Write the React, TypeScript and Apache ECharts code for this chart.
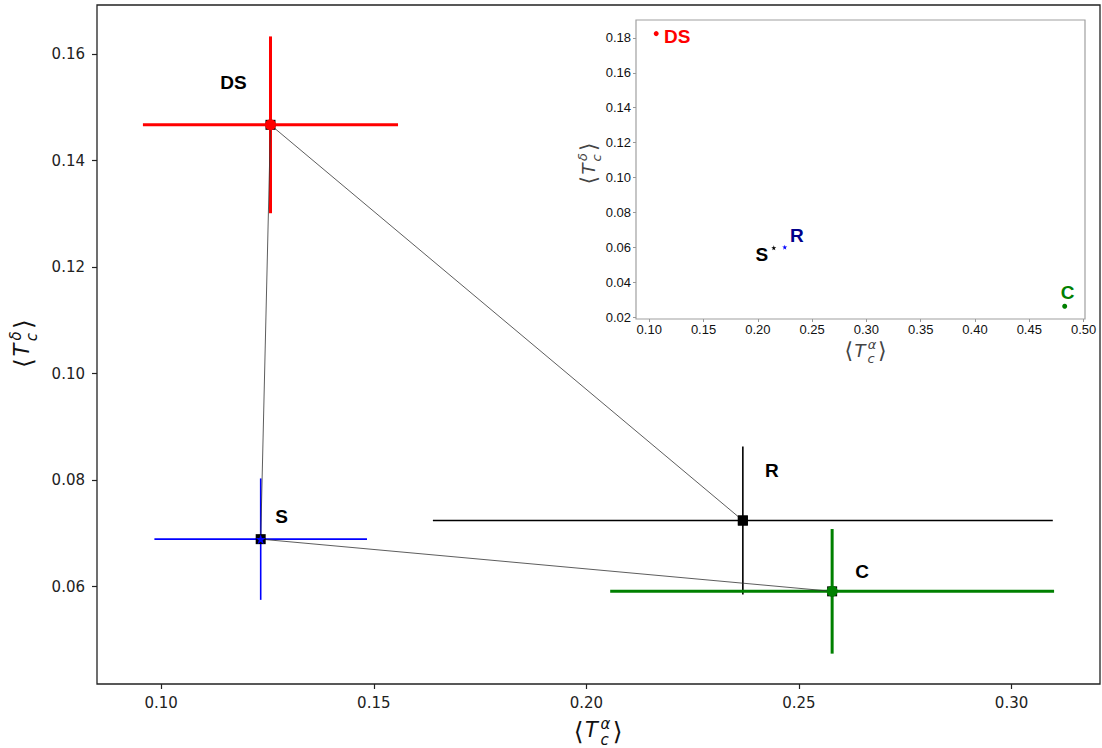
import React, { useEffect, useRef } from "react";
import * as echarts from "echarts";

// ---- main plot data ----
const names = ["DS", "S", "R", "C"];
const tcAlpha = [0.1257, 0.1234, 0.2368, 0.2578];
const tcDelta = [0.1467, 0.0689, 0.0724, 0.0591];
const errAlpha = [0.0300, 0.0250, 0.0729, 0.0522];
const errDelta = [0.0166, 0.0114, 0.0139, 0.0117];
const links = [["DS", "S"], ["DS", "R"], ["S", "C"]];
const mainXTicks = [0.10, 0.15, 0.20, 0.25, 0.30];
const mainYTicks = [0.06, 0.08, 0.10, 0.12, 0.14, 0.16];

// ---- inset data ----
const insetNames = ["DS", "S", "R", "C"];
const insetAlpha = [0.1064, 0.2147, 0.2248, 0.4826];
const insetDelta = [0.1825, 0.0597, 0.0601, 0.0262];
const insetXTicks = [0.10, 0.15, 0.20, 0.25, 0.30, 0.35, 0.40, 0.45, 0.50];
const insetYTicks = [0.02, 0.04, 0.06, 0.08, 0.10, 0.12, 0.14, 0.16, 0.18];

// ---- styles ----
const errColors = ["#ff0000", "#0000ff", "#000000", "#008000"];
const errWidths = [3, 1.6, 1.6, 3];
const overlaySymbols = ["circle", "star", "rect", "circle"];
const overlayColors = ["#ff0000", "#0000ff", "#000000", "#008000"];
const overlaySizes = [11, 10, 10, 11];
const labelOffsets = [[-37, -42], [21, -23], [29, -50], [30, -20]];
const insetSymbols = ["circle", "star", "star", "circle"];
const insetColors = ["#ff0000", "#000000", "#0000ff", "#008000"];
const insetLabelColors = ["#ff0000", "#000000", "#00008b", "#008000"];
const insetLabelOffsets = [[21, 3], [-12, 7], [12, -12], [3, -14]];

const STAR =
  "path://M100,0L122.45,69.1L195.1,69.1L136.33,111.8L158.78,180.9L100,138.2L41.22,180.9L63.67,111.8L4.9,69.1L77.55,69.1Z";
const sym = (s: string) => (s === "star" ? STAR : s);

const MATH_FONT = "DejaVu Sans";
const LABEL_FONT = "Liberation Sans, Arial, sans-serif";

function mathTitle(
  cx: number,
  cy: number,
  rotation: number,
  size: number,
  sup: string,
  color: string
) {
  const s = size / 21;
  const small = Math.round(size * 0.7);
  const t = (text: string, x: number, y: number, fs: number, italic: boolean) => ({
    type: "text",
    x: x * s,
    y: y * s,
    style: {
      text,
      fontSize: fs,
      fontFamily: MATH_FONT,
      fontStyle: italic ? "italic" : "normal",
      fill: color,
      align: "center",
      verticalAlign: "middle",
    },
  });
  return {
    type: "group",
    x: cx,
    y: cy,
    rotation,
    children: [
      t("\u27E8", -20, 1, Math.round(size * 1.2), false),
      t("T", -7, 0, size, true),
      t(sup, 7, -6, small, true),
      t("c", 6, 10, small, true),
      t("\u27E9", 19, 1, Math.round(size * 1.2), false),
    ],
  };
}

export default function App() {
  const ref = useRef<HTMLDivElement>(null);
  useEffect(() => {
    if (!ref.current) return;
    const chart = echarts.init(ref.current, undefined, { renderer: "svg" });
    const idx = (n: string) => names.indexOf(n);

    const mainAxisLabel = {
      fontFamily: MATH_FONT,
      fontSize: 15,
      color: "#222",
      formatter: (v: number) => v.toFixed(2),
    };
    const insetAxisLabel = {
      fontFamily: LABEL_FONT,
      fontSize: 13,
      color: "#111",
      formatter: (v: number) => v.toFixed(2),
    };

    chart.setOption({
      animation: false,
      backgroundColor: "#ffffff",
      grid: [
        {
          left: 97,
          top: 5,
          right: 2,
          bottom: 64,
          show: true,
          borderColor: "#222",
          borderWidth: 1.3,
          backgroundColor: "transparent",
        },
        {
          left: 636,
          top: 20,
          right: 17,
          bottom: 429,
          show: true,
          borderColor: "#a0a0a0",
          borderWidth: 1.2,
          backgroundColor: "#ffffff",
          z: 10,
        },
      ],
      xAxis: [
        {
          type: "value",
          gridIndex: 0,
          min: 0.0849,
          max: 0.3208,
          axisLine: { show: false },
          splitLine: { show: false },
          axisTick: {
            show: true,
            inside: false,
            length: 5,
            lineStyle: { color: "#222", width: 1.2 },
            customValues: mainXTicks,
          },
          axisLabel: { ...mainAxisLabel, margin: 11, customValues: mainXTicks },
        },
        {
          type: "value",
          gridIndex: 1,
          min: 0.0878,
          max: 0.5013,
          z: 10,
          axisLine: { show: false },
          splitLine: { show: false },
          axisTick: {
            show: true,
            length: 3,
            lineStyle: { color: "#999", width: 1 },
            customValues: insetXTicks,
          },
          axisLabel: { ...insetAxisLabel, margin: 4, customValues: insetXTicks },
        },
      ],
      yAxis: [
        {
          type: "value",
          gridIndex: 0,
          min: 0.0417,
          max: 0.1692,
          axisLine: { show: false },
          splitLine: { show: false },
          axisTick: {
            show: true,
            inside: false,
            length: 5,
            lineStyle: { color: "#222", width: 1.2 },
            customValues: mainYTicks,
          },
          axisLabel: { ...mainAxisLabel, margin: 12, customValues: mainYTicks },
        },
        {
          type: "value",
          gridIndex: 1,
          min: 0.0189,
          max: 0.1903,
          z: 10,
          axisLine: { show: false },
          splitLine: { show: false },
          axisTick: {
            show: true,
            length: 3,
            lineStyle: { color: "#999", width: 1 },
            customValues: insetYTicks,
          },
          axisLabel: { ...insetAxisLabel, margin: 5, customValues: insetYTicks },
        },
      ],
      series: [
        {
          type: "custom",
          xAxisIndex: 0,
          yAxisIndex: 0,
          z: 2,
          encode: { x: 0, y: 1 },
          data: tcAlpha.map((x, i) => [x, tcDelta[i], errAlpha[i], errDelta[i]]),
          renderItem: (params: any, api: any) => {
            const i = params.dataIndex;
            const x = api.value(0);
            const y = api.value(1);
            const ex = api.value(2);
            const ey = api.value(3);
            const l = api.coord([x - ex, y]);
            const r = api.coord([x + ex, y]);
            const t = api.coord([x, y + ey]);
            const b = api.coord([x, y - ey]);
            const style = { stroke: errColors[i], lineWidth: errWidths[i], fill: null };
            return {
              type: "group",
              children: [
                { type: "line", shape: { x1: l[0], y1: l[1], x2: r[0], y2: r[1] }, style },
                { type: "line", shape: { x1: t[0], y1: t[1], x2: b[0], y2: b[1] }, style },
              ],
            };
          },
        },
        {
          type: "lines",
          coordinateSystem: "cartesian2d",
          xAxisIndex: 0,
          yAxisIndex: 0,
          z: 3,
          lineStyle: { color: "#333", width: 0.8, opacity: 1 },
          data: links.map(([a, b]) => ({
            coords: [
              [tcAlpha[idx(a)], tcDelta[idx(a)]],
              [tcAlpha[idx(b)], tcDelta[idx(b)]],
            ],
          })),
        },
        {
          type: "scatter",
          xAxisIndex: 0,
          yAxisIndex: 0,
          z: 4,
          symbol: "rect",
          symbolSize: 10,
          itemStyle: { color: "#000", opacity: 1 },
          data: tcAlpha.map((x, i) => [x, tcDelta[i]]),
        },
        {
          type: "scatter",
          xAxisIndex: 0,
          yAxisIndex: 0,
          z: 5,
          data: tcAlpha.map((x, i) => ({
            value: [x, tcDelta[i]],
            name: names[i],
            symbol: sym(overlaySymbols[i]),
            symbolSize: overlaySizes[i],
            itemStyle: { color: overlayColors[i], opacity: 1 },
            label: {
              show: true,
              position: "inside",
              offset: labelOffsets[i],
              formatter: names[i],
              color: "#000",
              fontFamily: LABEL_FONT,
              fontWeight: "bold",
              fontSize: 19,
            },
          })),
        },
        {
          type: "scatter",
          xAxisIndex: 1,
          yAxisIndex: 1,
          z: 12,
          data: insetAlpha.map((x, i) => ({
            value: [x, insetDelta[i]],
            name: insetNames[i],
            symbol: sym(insetSymbols[i]),
            symbolSize: 5,
            itemStyle: { color: insetColors[i], opacity: 1 },
            label: {
              show: true,
              position: "inside",
              offset: insetLabelOffsets[i],
              formatter: insetNames[i],
              color: insetLabelColors[i],
              fontFamily: LABEL_FONT,
              fontWeight: "bold",
              fontSize: 19,
            },
          })),
        },
      ],
      graphic: [
        mathTitle(598.5, 730, 0, 21, "\u03B1", "#111"),
        mathTitle(22, 343, Math.PI / 2, 21, "\u03B4", "#111"),
        mathTitle(866, 350, 0, 18, "\u03B1", "#444"),
        mathTitle(588, 163, Math.PI / 2, 18, "\u03B4", "#444"),
      ],
    });
    return () => chart.dispose();
  }, []);
  return (
    <div
      ref={ref}
      style={{ position: "fixed", left: 0, top: 0, width: 1102, height: 748 }}
    />
  );
}
